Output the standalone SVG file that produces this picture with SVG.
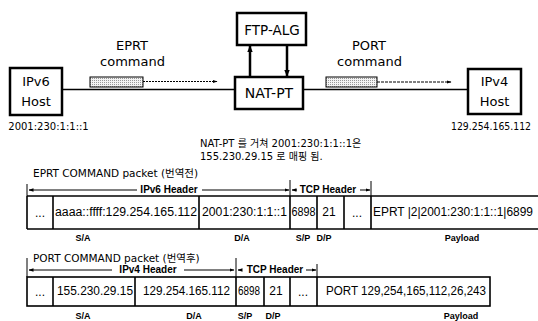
<svg xmlns="http://www.w3.org/2000/svg" width="538" height="321" viewBox="0 0 538 321">
<defs>
<marker id="ah" viewBox="0 0 10 10" refX="9" refY="5" markerWidth="7" markerHeight="7" orient="auto-start-reverse" markerUnits="userSpaceOnUse"><path d="M0,1 L10,5 L0,9 z" fill="#000"/></marker>
<marker id="sh" viewBox="0 0 10 10" refX="9" refY="5" markerWidth="5" markerHeight="5" orient="auto-start-reverse" markerUnits="userSpaceOnUse"><path d="M0,1.5 L10,5 L0,8.5 z" fill="#000"/></marker>
<pattern id="dots" width="2" height="2" patternUnits="userSpaceOnUse"><rect width="2" height="2" fill="#f4f4f4"/><rect width="1" height="1" fill="#999"/></pattern>
</defs>
<style>
.box{fill:#fff;stroke:#000;stroke-width:2.5}
.t{font-family:"DejaVu Sans",sans-serif;fill:#000}
.c{text-anchor:middle}
.f{font-family:"Liberation Sans",Arial,sans-serif;font-size:12px;fill:#000}
.lb{font-family:"Liberation Sans",Arial,sans-serif;font-weight:bold;font-size:9px;fill:#000;text-anchor:middle}
.hd{font-family:"Liberation Sans",Arial,sans-serif;font-weight:bold;font-size:10px;fill:#000;text-anchor:middle}
.kr{font-family:"DejaVu Sans","Noto Sans CJK KR",sans-serif;fill:#000}
.fld{fill:none;stroke:#000;stroke-width:1.6}
.ln{stroke:#000;stroke-width:1.5;fill:none}
.hl{stroke:#000;stroke-width:1;fill:none}
.msg{fill:url(#dots);stroke:#000;stroke-width:1}
</style>

<g id="connectors">
<line class="ln" x1="62" y1="89.5" x2="235" y2="89.5"/>
<line class="ln" x1="303" y1="89.5" x2="468" y2="89.5"/>
<line x1="250" y1="77" x2="250" y2="46" stroke="#000" stroke-width="2.5" marker-end="url(#ah)"/>
<line x1="287" y1="45" x2="287" y2="76" stroke="#000" stroke-width="2.5" marker-end="url(#ah)"/>
</g>

<g id="ipv6-host">
<rect class="box" x="10" y="68" width="52" height="47"/>
<text class="t c" x="36" y="86" font-size="13">IPv6</text>
<text class="t c" x="36" y="106" font-size="13">Host</text>
<text class="t c" x="48.5" y="130" font-size="10">2001:230:1:1::1</text>
</g>

<g id="eprt-command">
<text class="t c" x="132" y="50" font-size="13">EPRT</text>
<text class="t c" x="132.5" y="66" font-size="13">command</text>
<rect class="msg" x="90" y="77" width="53" height="10"/>
<line x1="143" y1="81.5" x2="217" y2="81.5" stroke="#000" stroke-width="1" stroke-dasharray="2,1" marker-end="url(#sh)"/>
</g>

<g id="ftp-alg">
<rect class="box" x="237" y="13" width="69" height="32"/>
<text class="t c" x="272" y="35" font-size="13.5">FTP-ALG</text>
</g>

<g id="nat-pt">
<rect class="box" x="235" y="77" width="68" height="32"/>
<text class="t c" x="269" y="98" font-size="14">NAT-PT</text>
</g>

<g id="port-command">
<text class="t c" x="369" y="50" font-size="13">PORT</text>
<text class="t c" x="369.5" y="66" font-size="13">command</text>
<rect class="msg" x="326" y="77" width="51" height="10"/>
<line x1="377" y1="82" x2="451" y2="82" stroke="#000" stroke-width="1" stroke-dasharray="3,1" marker-end="url(#sh)"/>
</g>

<g id="ipv4-host">
<rect class="box" x="468" y="69" width="53" height="45"/>
<text class="t c" x="494.5" y="86" font-size="13">IPv4</text>
<text class="t c" x="494.5" y="106" font-size="13">Host</text>
<text class="t" x="451" y="130" font-size="10" textLength="80" lengthAdjust="spacingAndGlyphs">129.254.165.112</text>
</g>

<g id="caption">
<text class="kr" x="200" y="147" font-size="10">NAT-PT 를 거쳐 2001:230:1:1::1은</text>
<text class="kr" x="200" y="160" font-size="10">155.230.29.15 로 매핑 됨.</text>
</g>

<g id="eprt-packet">
<text class="kr" x="33" y="177" font-size="10.5">EPRT COMMAND packet (번역전)</text>
<line class="hl" x1="27" y1="184" x2="27" y2="196"/>
<line class="hl" x1="29" y1="190" x2="137" y2="190" marker-start="url(#sh)"/>
<text class="hd" x="169" y="193">IPv6 Header</text>
<line class="hl" x1="202" y1="190" x2="289" y2="190" marker-end="url(#sh)"/>
<line class="hl" x1="290" y1="180" x2="290" y2="196"/>
<line class="hl" x1="292" y1="190" x2="297" y2="190" marker-start="url(#sh)"/>
<text class="hd" x="328" y="193">TCP Header</text>
<line class="hl" x1="360" y1="190" x2="370" y2="190" marker-end="url(#sh)"/>
<line class="hl" x1="371" y1="181" x2="371" y2="196"/>
<line class="fld" x1="27" y1="196" x2="538" y2="196"/>
<line class="fld" x1="27" y1="229" x2="538" y2="229"/>
<path class="fld" d="M27,196V229M53,196V229M199,196V229M290,196V229M317,196V229M344,196V229M371,196V229"/>
<text class="f c" x="40" y="217">...</text>
<text class="f" x="55" y="216" textLength="142" lengthAdjust="spacingAndGlyphs">aaaa::ffff:129.254.165.112</text>
<text class="f" x="202" y="216" textLength="85" lengthAdjust="spacingAndGlyphs">2001:230:1:1::1</text>
<text class="f" x="291.5" y="216" textLength="24" lengthAdjust="spacingAndGlyphs">6898</text>
<text class="f c" x="329" y="216">21</text>
<text class="f c" x="357" y="217">...</text>
<text class="f" x="373" y="216" textLength="160" lengthAdjust="spacingAndGlyphs">EPRT |2|2001:230:1:1::1|6899</text>
<text class="lb" x="83" y="241">S/A</text>
<text class="lb" x="242" y="241">D/A</text>
<text class="lb" x="303" y="241">S/P</text>
<text class="lb" x="324" y="241">D/P</text>
<text class="lb" x="462" y="241" font-size="9.5">Payload</text>
</g>

<g id="port-packet">
<text class="kr" x="33" y="262" font-size="10.5">PORT COMMAND packet (번역후)</text>
<line class="hl" x1="27" y1="258" x2="27" y2="277"/>
<line class="hl" x1="29" y1="270" x2="112" y2="270" marker-start="url(#sh)"/>
<text class="hd" x="148" y="273">IPv4 Header</text>
<line class="hl" x1="184" y1="270" x2="234" y2="270" marker-end="url(#sh)"/>
<line class="hl" x1="236" y1="258" x2="236" y2="277"/>
<line class="hl" x1="238" y1="270" x2="242" y2="270" marker-start="url(#sh)"/>
<text class="hd" x="275" y="273">TCP Header</text>
<line class="hl" x1="306" y1="270" x2="316" y2="270" marker-end="url(#sh)"/>
<line class="hl" x1="317" y1="264" x2="317" y2="277"/>
<rect class="fld" x="27" y="277" width="463" height="29"/>
<path class="fld" d="M53,277V306M135,277V306M236,277V306M264,277V306M290,277V306M317,277V306"/>
<text class="f c" x="40" y="296">...</text>
<text class="f" x="57" y="295" textLength="76" lengthAdjust="spacingAndGlyphs">155.230.29.15</text>
<text class="f" x="143" y="295" textLength="87" lengthAdjust="spacingAndGlyphs">129.254.165.112</text>
<text class="f" x="238" y="295" textLength="22" lengthAdjust="spacingAndGlyphs">6898</text>
<text class="f c" x="276" y="295">21</text>
<text class="f c" x="303" y="296">...</text>
<text class="f" x="326" y="295" textLength="160" lengthAdjust="spacingAndGlyphs">PORT 129,254,165,112,26,243</text>
<text class="lb" x="83" y="319">S/A</text>
<text class="lb" x="194" y="319">D/A</text>
<text class="lb" x="245" y="319">S/P</text>
<text class="lb" x="273" y="319">D/P</text>
<text class="lb" x="461" y="319" font-size="9.5">Payload</text>
</g>
</svg>
